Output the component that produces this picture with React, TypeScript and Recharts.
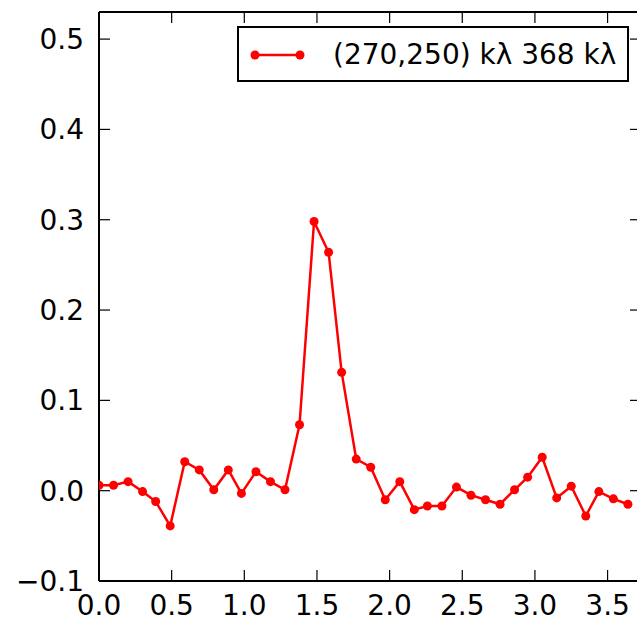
import React from 'react'
import { Legend, Line, LineChart, XAxis, YAxis } from 'recharts'

// offsets along the cut, equal spacing
const offsets = [
  0.0, 0.1, 0.2, 0.3, 0.39, 0.49, 0.59, 0.69, 0.79, 0.89, 0.98, 1.08, 1.18,
  1.28, 1.38, 1.48, 1.58, 1.67, 1.77, 1.87, 1.97, 2.07, 2.17, 2.26, 2.36,
  2.46, 2.56, 2.66, 2.76, 2.86, 2.95, 3.05, 3.15, 3.25, 3.35, 3.44, 3.54, 3.64,
]

const amplitude = [
  0.006, 0.006, 0.01, -0.001, -0.012, -0.039, 0.032, 0.023, 0.001, 0.023,
  -0.003, 0.021, 0.01, 0.001, 0.073, 0.298, 0.264, 0.131, 0.035, 0.026,
  -0.01, 0.01, -0.021, -0.017, -0.017, 0.004, -0.005, -0.01, -0.015, 0.001,
  0.015, 0.037, -0.008, 0.005, -0.028, -0.001, -0.009, -0.015,
]

const xTicks = [0, 0.5, 1, 1.5, 2, 2.5, 3, 3.5]
const yTicks = [-0.1, 0, 0.1, 0.2, 0.3, 0.4, 0.5]

const seriesName = '(270,250) kλ 368 kλ'

const data = offsets.map((x, i) => ({ x, y: amplitude[i] }))

const font = 'DejaVu Sans, sans-serif'
const red = '#ff0000'
const TICK = 11
const CHART_W = 660
const MARGIN_R = 19
const PLOT_RIGHT = CHART_W - MARGIN_R
const xDomain = [0, 3.73]
const yDomain = [-0.1, 0.53]

const fmt = (v: number) => (v < 0 ? '\u2212' : '') + Math.abs(v).toFixed(1)

// matplotlib-style ticks: short marks pointing into the plot
function BottomTick({ x, y, payload }: any) {
  return (
    <g>
      <line x1={x} y1={y} x2={x} y2={y - TICK} stroke="#000" strokeWidth={1.2} />
      <text x={x} y={y + 34} textAnchor="middle" fill="#000" fontSize={28} fontFamily={font}>
        {fmt(payload.value)}
      </text>
    </g>
  )
}

function TopTick({ x, y }: any) {
  return <line x1={x} y1={y} x2={x} y2={y + TICK} stroke="#000" strokeWidth={1.2} />
}

// left ticks also mirror a tick onto the right-hand frame edge
function LeftTick({ x, y, payload }: any) {
  return (
    <g>
      <line x1={x} y1={y} x2={x + TICK} y2={y} stroke="#000" strokeWidth={1.2} />
      <line x1={PLOT_RIGHT} y1={y} x2={PLOT_RIGHT - TICK} y2={y} stroke="#000" strokeWidth={1.2} />
      <text x={x - 15} y={y + 10} textAnchor="end" fill="#000" fontSize={28} fontFamily={font}>
        {fmt(payload.value)}
      </text>
    </g>
  )
}

function LegendBox() {
  return (
    <div
      style={{
        width: 388,
        height: 52,
        border: '2px solid #000',
        background: '#fff',
        display: 'flex',
        alignItems: 'center',
        fontFamily: font,
        fontSize: 28,
        color: '#000',
      }}
    >
      <svg width={94} height={52} style={{ flex: 'none' }}>
        <line x1={16} y1={27} x2={61} y2={27} stroke={red} strokeWidth={2.5} />
        <circle cx={16} cy={27} r={4.5} fill={red} />
        <circle cx={61} cy={27} r={4.5} fill={red} />
      </svg>
      <span style={{ whiteSpace: 'nowrap' }}>{seriesName}</span>
    </div>
  )
}

export default function App() {
  return (
    <div style={{ position: 'absolute', left: 0, top: 0 }}>
      <LineChart
        width={CHART_W}
        height={622}
        data={data}
        margin={{ top: 11, right: MARGIN_R, bottom: 11, left: 0 }}
      >
        <XAxis
          dataKey="x"
          type="number"
          domain={xDomain}
          ticks={xTicks}
          allowDataOverflow
          height={30}
          stroke="#000"
          strokeWidth={2}
          tickLine={false}
          tickSize={0}
          tickMargin={0}
          tick={<BottomTick />}
        />
        <XAxis
          xAxisId="top"
          orientation="top"
          dataKey="x"
          type="number"
          domain={xDomain}
          ticks={xTicks}
          allowDataOverflow
          height={1}
          stroke="#000"
          strokeWidth={2}
          tickLine={false}
          tickSize={0}
          tickMargin={0}
          tick={<TopTick />}
        />
        <YAxis
          type="number"
          domain={yDomain}
          ticks={yTicks}
          allowDataOverflow
          interval={0}
          width={99}
          stroke="#000"
          strokeWidth={2}
          tickLine={false}
          tickSize={0}
          tickMargin={0}
          tick={<LeftTick />}
        />
        <Legend
          layout="horizontal"
          verticalAlign="middle"
          align="center"
          wrapperStyle={{ top: 26, left: 237, width: 392 }}
          content={() => <LegendBox />}
        />
        <Line
          dataKey="y"
          name={seriesName}
          type="linear"
          stroke={red}
          strokeWidth={2.5}
          dot={{ r: 4.5, fill: red, stroke: red, strokeWidth: 0 }}
          isAnimationActive={false}
        />
      </LineChart>
    </div>
  )
}
